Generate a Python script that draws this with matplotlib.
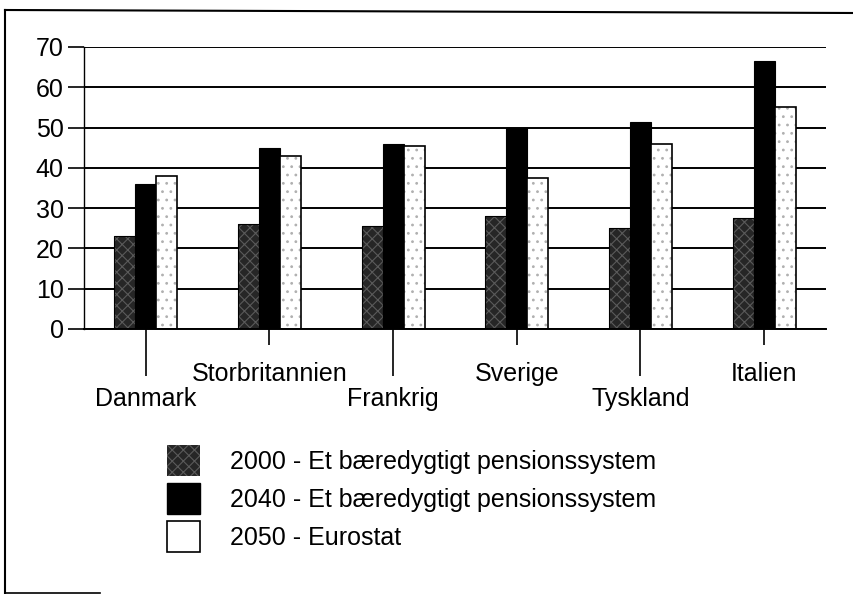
import matplotlib.pyplot as plt
from matplotlib.patches import Patch
from matplotlib.lines import Line2D
import numpy as np

plt.rcParams['font.family'] = ['Liberation Sans', 'DejaVu Sans']
plt.rcParams['hatch.linewidth'] = 0.8

# data
countries = ['Danmark', 'Storbritannien', 'Frankrig', 'Sverige', 'Tyskland', 'Italien']
v2000 = [23, 26, 25.5, 28, 25, 27.5]
v2040 = [36, 45, 46, 50, 51.5, 66.5]
v2050 = [38, 43, 45.5, 37.5, 46, 55]
labels = ['2000 - Et bæredygtigt pensionssystem',
          '2040 - Et bæredygtigt pensionssystem',
          '2050 - Eurostat']

W, H = 854, 594
fs = 18
fig = plt.figure(figsize=(W / 100, H / 100), dpi=100)
ax = fig.add_axes([84 / W, 1 - 329 / H, (826 - 84) / W, (329 - 47) / H])

x = np.arange(len(countries))
w = 0.17

# 2000: dark grey speckled
ax.bar(x - w, v2000, w, color='#262626', edgecolor='#5a5a5a', linewidth=0, hatch='xxx', zorder=2)
ax.bar(x - w, v2000, w, fill=False, edgecolor='black', linewidth=0.8, zorder=3)
# 2040: solid black
ax.bar(x, v2040, w, color='black', edgecolor='black', linewidth=0.8, zorder=2)
# 2050: light dotted
ax.bar(x + w, v2050, w, color='white', edgecolor='#b0b0b0', linewidth=0, hatch='..', zorder=2)
ax.bar(x + w, v2050, w, fill=False, edgecolor='black', linewidth=1.2, zorder=3)

ax.set_xlim(-0.5, len(countries) - 0.5)
ax.set_ylim(0, 70)
ax.set_yticks(range(0, 71, 10))
ax.yaxis.grid(True, color='black', linewidth=1.4)
ax.set_axisbelow(True)
ax.tick_params(axis='y', length=11.5, width=1.2, pad=3, labelsize=fs)

for s in ['top', 'right']:
    ax.spines[s].set_visible(False)
ax.spines['left'].set_linewidth(1.0)
ax.spines['bottom'].set_linewidth(1.4)

# alternating long / short ticks with staggered labels
ax.set_xticks(x[::2], [countries[i] for i in x[::2]])
ax.set_xticks(x[1::2], [countries[i] for i in x[1::2]], minor=True)
ax.tick_params(axis='x', which='major', length=34, width=1.2, pad=8, labelsize=fs)
ax.tick_params(axis='x', which='minor', length=11.5, width=1.2, pad=12, labelsize=fs)

handles = [
    Patch(facecolor='#262626', edgecolor='#5a5a5a', hatch='xxx', linewidth=0),
    Patch(facecolor='black', edgecolor='black'),
    Patch(facecolor='white', edgecolor='black', linewidth=1.2),
]
fig.legend(handles, labels, loc='upper left', bbox_to_anchor=(167 / W, 1 - 445 / H),
           frameon=False, fontsize=fs, borderpad=0, borderaxespad=0,
           handlelength=1.32, handleheight=1.52, handletextpad=1.2, labelspacing=0.29)

# scanned outer frame (left, top and a bit of the bottom)
fig.add_artist(Line2D([5 / W, 5 / W], [1 - 593 / H, 1 - 10 / H], color='black', linewidth=1.5))
fig.add_artist(Line2D([5 / W, 1], [1 - 10 / H, 1 - 13 / H], color='black', linewidth=1.5))
fig.add_artist(Line2D([5 / W, 100 / W], [1 - 593 / H, 1 - 593 / H], color='black', linewidth=1.2))

fig.savefig('out.png', dpi=100)
